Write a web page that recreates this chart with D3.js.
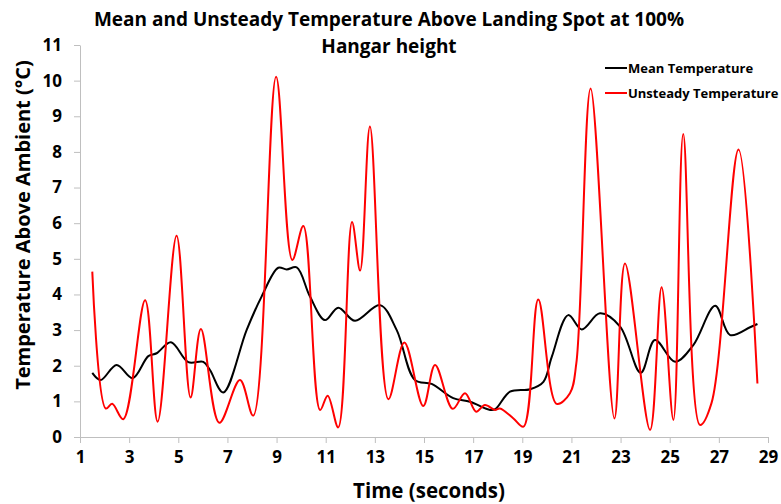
<!DOCTYPE html>
<html lang="en">
<head>
    <meta charset="UTF-8">
    <title>Mean and Unsteady Temperature</title>
    <script src="https://d3js.org/d3.v7.min.js"></script>
    <style>
        body { margin: 0; background: #fff; }
        text { font-family: "Open Sans", Lato, sans-serif; font-weight: bold; fill: #000; }
        .axis path, .axis line { stroke: #bfbfbf; }
        .line { fill: none; stroke-width: 2px; }
    </style>
</head>
<body>
    <svg width="781" height="504"></svg>

    <script>
        // Values
        const unsteadyTime = [1.5, 2.05, 2.31, 2.76, 3.65, 4.16, 4.93, 5.5, 5.92, 6.67, 7.51, 8.05, 8.98, 9.64, 10.09,
            10.77, 11.08, 11.51, 12.07, 12.4, 12.8, 13.55, 14.2, 14.97, 15.45, 16.17, 16.67, 17.12, 17.48, 17.89, 18.09,
            18.64, 19.05, 19.65, 20.4, 20.94, 21.2, 21.78, 22.75, 23.18, 24.2, 24.67, 25.15, 25.55, 26.23, 26.7, 27.8, 28.57];
        const unsteadyTemp = [4.64, 0.8, 0.93, 0.5, 3.84, 0.43, 5.65, 1.11, 3.03, 0.4, 1.6, 0.6, 10.11, 4.97, 5.92,
            0.76, 1.16, 0.27, 6.03, 4.67, 8.71, 1.06, 2.65, 0.87, 2.02, 0.79, 1.23, 0.71, 0.9, 0.76, 0.8,
            0.52, 0.29, 3.86, 0.93, 1.23, 2.07, 9.78, 0.52, 4.87, 0.2, 4.2, 0.48, 8.5, 0.34, 0.95, 8.07, 1.5];

        const meanTime = [1.5, 1.84, 2.49, 3.14, 3.78, 4.12, 4.7, 5.41, 6.02, 6.29, 6.83, 7.78, 8.39, 9.07, 9.41, 9.82,
            10.36, 10.97, 11.51, 12.19, 13.21, 13.89, 14.63, 15.31, 16.19, 16.87, 17.69, 17.9, 18.5, 19.32, 19.86, 20.2,
            20.87, 21.42, 22.16, 22.98, 23.82, 24.4, 25.22, 25.96, 26.85, 27.46, 28.27, 28.57];
        const meanTemp = [1.8, 1.6, 2.02, 1.65, 2.27, 2.35, 2.66, 2.1, 2.11, 1.88, 1.25, 3.0, 3.94, 4.75, 4.7, 4.76,
            3.94, 3.28, 3.63, 3.26, 3.7, 3.0, 1.6, 1.49, 1.09, 0.99, 0.76, 0.78, 1.27, 1.34, 1.55, 2.25,
            3.42, 3.02, 3.47, 3.1, 1.8, 2.72, 2.11, 2.58, 3.68, 2.86, 3.08, 3.17];

        const xTicks = d3.range(1, 30, 2);
        const yTicks = d3.range(0, 12, 1);

        const svg = d3.select("svg");

        const x = d3.scaleLinear().domain([1, 29]).range([80, 768]);
        const y = d3.scaleLinear().domain([0, 11]).range([437, 45]);

        // Axes
        const xAxis = svg.append("g")
            .attr("class", "axis")
            .attr("transform", "translate(0,437)")
            .call(d3.axisBottom(x).tickValues(xTicks).tickSize(6).tickSizeOuter(0).tickPadding(8));
        xAxis.selectAll("text").style("font-size", "17px");

        const yAxis = svg.append("g")
            .attr("class", "axis")
            .attr("transform", "translate(80,0)")
            .call(d3.axisLeft(y).tickValues(yTicks).tickSize(6).tickSizeOuter(0).tickPadding(12));
        yAxis.selectAll("text").style("font-size", "17px");

        // Lines
        const line = d3.line()
            .x(d => x(d[0]))
            .y(d => y(d[1]))
            .curve(d3.curveCatmullRom.alpha(0.5));

        svg.append("path")
            .datum(d3.zip(meanTime, meanTemp))
            .attr("class", "line")
            .attr("stroke", "#000")
            .attr("d", line);

        svg.append("path")
            .datum(d3.zip(unsteadyTime, unsteadyTemp))
            .attr("class", "line")
            .attr("stroke", "#ff0000")
            .attr("d", line);

        // Title
        svg.append("text")
            .attr("x", 389).attr("y", 26)
            .attr("text-anchor", "middle")
            .style("font-size", "19px")
            .text("Mean and Unsteady Temperature Above Landing Spot at 100%");
        svg.append("text")
            .attr("x", 389).attr("y", 53)
            .attr("text-anchor", "middle")
            .style("font-size", "19px")
            .text("Hangar height");

        // Axis titles
        svg.append("text")
            .attr("transform", "translate(30,225) rotate(-90)")
            .attr("text-anchor", "middle")
            .style("font-size", "20px")
            .text("Temperature Above Ambient (°C)");
        svg.append("text")
            .attr("x", 429).attr("y", 498)
            .attr("text-anchor", "middle")
            .style("font-size", "20.5px")
            .text("Time (seconds)");

        // Legend
        const legend = [["Mean Temperature", "#000"], ["Unsteady Temperature", "#ff0000"]];
        legend.forEach((d, i) => {
            const ly = 68 + i * 25;
            svg.append("line")
                .attr("x1", 605).attr("x2", 627)
                .attr("y1", ly).attr("y2", ly)
                .attr("stroke", d[1]).attr("stroke-width", 2);
            svg.append("text")
                .attr("x", 628).attr("y", ly + 4.5)
                .style("font-size", "13px")
                .text(d[0]);
        });
    </script>
</body>
</html>
